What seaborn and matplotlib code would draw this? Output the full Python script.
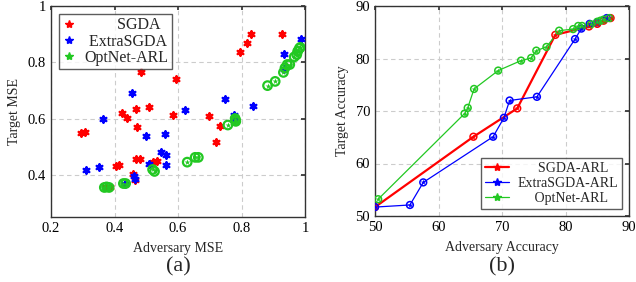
import numpy as np
import pandas as pd
import seaborn as sns
import matplotlib
matplotlib.use("Agg")
from matplotlib import pyplot as plt
from matplotlib.lines import Line2D

# (a) scatter data: adversary MSE vs target MSE
sgda_x = [0.293, 0.308, 0.483, 0.425, 0.44, 0.468, 0.472, 0.51, 0.593, 0.583, 0.698, 0.731,
          0.795, 0.816, 0.829, 0.928, 0.72, 0.405, 0.414, 0.467, 0.48, 0.522, 0.533, 0.459,
          0.465, 0.372, 0.385]
sgda_y = [0.549, 0.551, 0.766, 0.619, 0.602, 0.635, 0.571, 0.642, 0.741, 0.614, 0.608, 0.574,
          0.836, 0.869, 0.9, 0.9, 0.517, 0.433, 0.436, 0.455, 0.455, 0.444, 0.449, 0.402,
          0.383, 0.355, 0.355]
extra_x = [0.365, 0.455, 0.5, 0.558, 0.623, 0.748, 0.777, 0.836, 0.934, 0.987, 0.311, 0.35,
           0.51, 0.548, 0.561, 0.561, 0.46, 0.463, 0.433, 0.935, 0.78]
extra_y = [0.6, 0.692, 0.537, 0.544, 0.632, 0.668, 0.611, 0.644, 0.831, 0.881, 0.417, 0.426,
           0.44, 0.482, 0.469, 0.434, 0.395, 0.384, 0.367, 0.775, 0.6]
opt_x = [0.368, 0.375, 0.383, 0.428, 0.435, 0.52, 0.526, 0.629, 0.654, 0.664, 0.757, 0.78,
         0.781, 0.782, 0.882, 0.906, 0.932, 0.937, 0.944, 0.952, 0.966, 0.974, 0.977, 0.982, 0.985]
opt_y = [0.355, 0.357, 0.355, 0.369, 0.369, 0.419, 0.412, 0.445, 0.462, 0.462, 0.577, 0.6,
         0.594, 0.59, 0.717, 0.732, 0.764, 0.78, 0.792, 0.792, 0.819, 0.827, 0.839, 0.849, 0.853]

# (b) trade-off curves: adversary accuracy vs target accuracy
sgda_arl_x = [50, 65.5, 72.4, 78.4, 83.7, 85.0, 86.0, 87.1]
sgda_arl_y = [51.7, 65.1, 70.5, 84.5, 86.1, 86.6, 87.2, 87.7]
extra_arl_x = [50, 55.5, 57.6, 68.6, 70.3, 71.2, 75.5, 81.5, 82.5, 83.8, 85.0, 86.5]
extra_arl_y = [51.7, 52.1, 56.4, 65.1, 68.7, 72.0, 72.7, 83.7, 85.7, 86.6, 86.9, 87.7]
opt_arl_x = [50.5, 64.1, 64.6, 65.6, 69.4, 73.0, 74.6, 75.4, 77.0, 79.0, 81.2, 82.0, 82.6,
             84.0, 85.0, 85.5, 86.0, 86.9]
opt_arl_y = [53.2, 69.5, 70.6, 74.2, 77.7, 79.6, 80.1, 81.5, 82.2, 85.3, 85.6, 86.2, 86.2,
             86.5, 87.0, 87.2, 87.4, 87.7]

RED, BLUE, GREEN = "#ff0000", "#0000ff", "#22c822"

sns.set_theme(style="white")
plt.rcParams['font.family'] = ['Liberation Serif', 'DejaVu Serif']

fig = plt.figure(figsize=(6.36, 2.82), dpi=100)
ax1 = fig.add_axes([51 / 636, 1 - 217 / 282, 254 / 636, 211 / 282])
ax2 = fig.add_axes([375 / 636, 1 - 216 / 282, 254 / 636, 210 / 282])

ast = (6, 2, 0)

def style(ax):
    ax.grid(True, color="#cccccc", linestyle=(0, (4, 3)), linewidth=0.8)
    for s in ax.spines.values():
        s.set_color("#333333")
        s.set_linewidth(1.0)
    ax.tick_params(axis="both", labelsize=10.5, colors="#333333", length=3, direction="in",
                   top=True, right=True, labelcolor="black")

# ---- (a) ----
sns.scatterplot(x=sgda_x, y=sgda_y, ax=ax1, marker=ast, color=RED, s=20, linewidth=1.7,
                edgecolor=RED, zorder=3)
sns.scatterplot(x=extra_x, y=extra_y, ax=ax1, marker=ast, color=BLUE, s=20, linewidth=1.7,
                edgecolor=BLUE, zorder=4)
ax1.scatter(opt_x, opt_y, marker="o", s=38, facecolor="none", edgecolor=GREEN, linewidth=1.6, zorder=5)
ax1.scatter(opt_x, opt_y, marker="*", s=20, color=GREEN, linewidth=0, zorder=6)
ax1.set_xlim(0.2, 1.0)
ax1.set_ylim(0.25, 1.0)
ax1.set_xticks([0.2, 0.4, 0.6, 0.8, 1.0])
ax1.set_xticklabels(["0.2", "0.4", "0.6", "0.8", "1"])
ax1.set_yticks([0.4, 0.6, 0.8, 1.0])
ax1.set_yticklabels(["0.4", "0.6", "0.8", "1"])
style(ax1)
ax1.set_xlabel("Adversary MSE", fontsize=10, labelpad=5)
ax1.set_ylabel("Target MSE", fontsize=10, labelpad=5)
h1 = [Line2D([], [], ls="none", marker="*", color=c, markersize=6) for c in (RED, BLUE, GREEN)]
leg1 = ax1.legend(h1, ["        SGDA", " ExtraSGDA", "OptNet-ARL"], loc="upper left", fontsize=11.5,
                  frameon=True, fancybox=False, edgecolor="#333333", handletextpad=0.5,
                  borderpad=0.2, labelspacing=0.02, handlelength=0.9, borderaxespad=0.5)
leg1.get_frame().set_linewidth(1.0)

# ---- (b) ----
curves = [
    (sgda_arl_x, sgda_arl_y, RED, 1.6, "SGDA-ARL"),
    (extra_arl_x, extra_arl_y, BLUE, 0.9, "ExtraSGDA-ARL"),
    (opt_arl_x, opt_arl_y, GREEN, 0.9, "OptNet-ARL"),
]
for xs, ys, c, lw, name in curves:
    df = pd.DataFrame({"x": xs, "y": ys})
    sns.lineplot(data=df, x="x", y="y", ax=ax2, color=c, linewidth=lw, sort=False,
                 estimator=None, zorder=3)
    ax2.scatter(xs, ys, marker="o", s=24, facecolor="none", edgecolor=c, linewidth=1.1, zorder=4)
    ax2.scatter(xs, ys, marker="*", s=18, color=c, linewidth=0, zorder=5)
ax2.set_xlim(50, 90)
ax2.set_ylim(50, 90)
ax2.set_xticks([50, 60, 70, 80, 90])
ax2.set_yticks([50, 60, 70, 80, 90])
style(ax2)
ax2.set_xlabel("Adversary Accuracy", fontsize=10, labelpad=5)
ax2.set_ylabel("Target Accuracy", fontsize=10, labelpad=5)
h2 = [Line2D([], [], color=c, lw=lw, marker="*", markersize=6) for _, _, c, lw, _ in curves]
leg2 = ax2.legend(h2, ["      SGDA-ARL", "ExtraSGDA-ARL", "     OptNet-ARL"], loc="lower right",
                  fontsize=10, frameon=True, fancybox=False, edgecolor="#333333",
                  handlelength=1.7, handletextpad=0.6, borderpad=0.3, labelspacing=0.15,
                  borderaxespad=0.5)
leg2.get_frame().set_linewidth(1.0)

fig.text(178 / 636, 1 - 267 / 282, "(a)", ha="center", va="center", fontsize=16)
fig.text(502 / 636, 1 - 267 / 282, "(b)", ha="center", va="center", fontsize=16)

fig.savefig("out.png", dpi=100)
